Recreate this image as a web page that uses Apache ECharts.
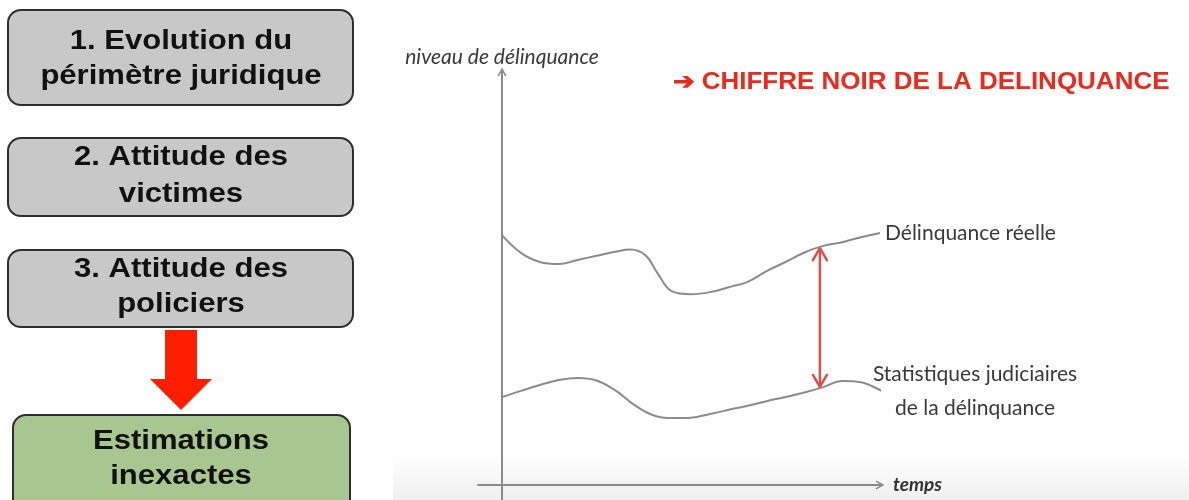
<!DOCTYPE html>
<html>
<head>
<meta charset="utf-8">
<script src="https://cdn.jsdelivr.net/npm/echarts@6/dist/echarts.min.js"></script>
<style>
html,body{margin:0;padding:0;background:#fff;}
#chart{width:1189px;height:500px;}
</style>
</head>
<body>
<div id="chart"></div>
<script>
// ---- data (schematic values) ----
// time axis 0..100, level axis 0..100
const realTime  = [0, 5, 10, 15, 20, 25, 30, 34, 38, 41, 45, 50, 55, 60, 65, 70, 75, 80, 85, 90, 95, 100];
const realLevel = [60.5, 56.2, 54.0, 53.5, 54.5, 55.5, 56.5, 57.0, 55.6, 51.5, 46.9, 46.2, 46.7, 47.9, 49.2, 51.8, 54.0, 56.3, 57.9, 58.8, 60.0, 61.0];
const statTime  = [0, 5, 10, 15, 20, 25, 30, 35, 40, 45, 50, 55, 60, 65, 70, 75, 80, 85, 90, 95, 100, 101.3];
const statLevel = [21.3, 22.8, 24.2, 25.4, 25.9, 25.3, 22.9, 19.4, 16.9, 16.2, 16.3, 17.2, 18.2, 19.2, 20.3, 21.3, 22.4, 23.7, 25.2, 24.9, 23.0, 22.3];
const gapTime = 84.1;          // position of the double arrow
const gapTop = 57.6, gapBottom = 23.5;

const seriesNames = ['Délinquance réelle', 'Statistiques judiciaires\nde la délinquance'];
const axisNames = { y: 'niveau de délinquance', x: 'temps' };
const headline = '➔ CHIFFRE NOIR DE LA DELINQUANCE';
const boxes = [
  ['1. Evolution du', 'périmètre juridique'],
  ['2. Attitude des', 'victimes'],
  ['3. Attitude des', 'policiers'],
  ['Estimations', 'inexactes']
];

const zip = (a, b) => a.map((v, i) => [v, b[i]]);
const chevron = 'path://M0,9 L5,0 L10,9 L8.6,10 L5,3.6 L1.4,10 Z';
const labelFont = 'Lato, "DejaVu Sans", sans-serif';
const boldFont = '"Liberation Sans", Arial, sans-serif';

// ---- left flow boxes (graphic) ----
const boxGeom = [
  {x: 8, y: 10, w: 345, h: 95, l1: 42, l2: 77, fill: '#c8c8c8'},
  {x: 8, y: 138, w: 345, h: 78, l1: 158, l2: 195, fill: '#c8c8c8'},
  {x: 8, y: 250, w: 345, h: 77, l1: 270, l2: 305, fill: '#c8c8c8'},
  {x: 13, y: 415, w: 337, h: 100, l1: 442, l2: 477, fill: '#a8c690'}
];
const graphics = [];
// subtle grey strip at bottom of the diagram area
graphics.push({
  type: 'rect', z: -10, silent: true,
  shape: {x: 393, y: 455, width: 796, height: 45},
  style: {fill: {type: 'linear', x: 0, y: 0, x2: 0, y2: 1,
    colorStops: [{offset: 0, color: 'rgba(240,240,240,0)'}, {offset: 1, color: '#efefef'}]}}
});
boxGeom.forEach((g, i) => {
  graphics.push({
    type: 'rect',
    shape: {x: g.x, y: g.y, width: g.w, height: g.h, r: 13},
    style: {fill: g.fill, stroke: '#2e2e2e', lineWidth: 2}
  });
  [g.l1, g.l2].forEach((ly, k) => {
    graphics.push({
      type: 'group', x: 181, y: ly, scaleX: 1.15,
      children: [{
        type: 'text', x: 0, y: 0,
        style: {text: boxes[i][k], fill: '#111', font: 'bold 27px ' + boldFont,
          textAlign: 'center', textVerticalAlign: 'middle'}
      }]
    });
  });
});
// red down arrow
graphics.push({
  type: 'polygon',
  shape: {points: [[165, 330], [197, 330], [197, 379], [212, 379], [181, 410], [150, 379], [165, 379]]},
  style: {fill: '#ff1e00'}
});
// headline
graphics.push({
  type: 'group', x: 673, y: 83, scaleX: 1.13,
  children: [{
    type: 'text', x: 0, y: 0,
    style: {text: headline, fill: '#ea2a1c', font: 'bold 23px ' + boldFont,
      textAlign: 'left', textVerticalAlign: 'middle'}
  }]
});

const chart = echarts.init(document.getElementById('chart'));
chart.setOption({
  animation: false,
  backgroundColor: '#fff',
  grid: {left: 478, right: 309, top: 72, bottom: 0},
  xAxis: {
    type: 'value', min: -6.35, max: 100,
    axisLine: {show: true, onZero: true, symbol: ['none', chevron], symbolSize: [9, 10],
      lineStyle: {color: '#8a8a8a', width: 2}},
    axisTick: {show: false}, axisLabel: {show: false}, splitLine: {show: false},
    name: axisNames.x, nameLocation: 'end', nameGap: 13,
    nameTextStyle: {fontFamily: labelFont, fontStyle: 'italic', fontWeight: 'bold', fontSize: 19, color: '#333', verticalAlign: 'middle'}
  },
  yAxis: {
    type: 'value', min: -3.63, max: 100,
    axisLine: {show: true, onZero: true, symbol: ['none', chevron], symbolSize: [9, 10],
      lineStyle: {color: '#8a8a8a', width: 2}},
    axisTick: {show: false}, axisLabel: {show: false}, splitLine: {show: false},
    name: axisNames.y, nameLocation: 'end', nameGap: 4,
    nameTextStyle: {fontFamily: labelFont, fontStyle: 'italic', fontSize: 21, color: '#3a3a3a', align: 'center'}
  },
  series: [
    {
      name: seriesNames[0], type: 'line', smooth: 0.4, showSymbol: false, silent: true,
      data: zip(realTime, realLevel),
      lineStyle: {color: '#8c8c8c', width: 2},
      itemStyle: {color: '#8c8c8c'},
      endLabel: {show: true, formatter: '{a}', distance: 5, color: '#3a3a3a',
        fontFamily: labelFont, fontSize: 21}
    },
    {
      name: seriesNames[1], type: 'line', smooth: 0.4, showSymbol: false, silent: true,
      data: zip(statTime, statLevel),
      lineStyle: {color: '#8c8c8c', width: 2},
      itemStyle: {color: '#8c8c8c'},
      endLabel: {show: true, formatter: '{a}', distance: 0, align: 'center', offset: [94, 1],
        lineHeight: 34, color: '#3a3a3a', fontFamily: labelFont, fontSize: 21}
    },
    {
      type: 'custom', silent: true,
      data: [[gapTime, gapTop, gapBottom]],
      renderItem: function (params, api) {
        const p1 = api.coord([api.value(0), api.value(1)]);
        const p2 = api.coord([api.value(0), api.value(2)]);
        const c = '#d9504a';
        const st = {stroke: c, lineWidth: 2.5, fill: null, lineCap: 'round', lineJoin: 'round'};
        return {
          type: 'group',
          children: [
            {type: 'line', shape: {x1: p1[0], y1: p1[1] + 1, x2: p2[0], y2: p2[1] - 1}, style: st},
            {type: 'polyline', shape: {points: [[p1[0] - 7, p1[1] + 13], [p1[0], p1[1] + 1], [p1[0] + 7, p1[1] + 13]]}, style: st},
            {type: 'polyline', shape: {points: [[p2[0] - 7, p2[1] - 13], [p2[0], p2[1] - 1], [p2[0] + 7, p2[1] - 13]]}, style: st}
          ]
        };
      }
    }
  ],
  graphic: graphics
});
</script>
</body>
</html>
